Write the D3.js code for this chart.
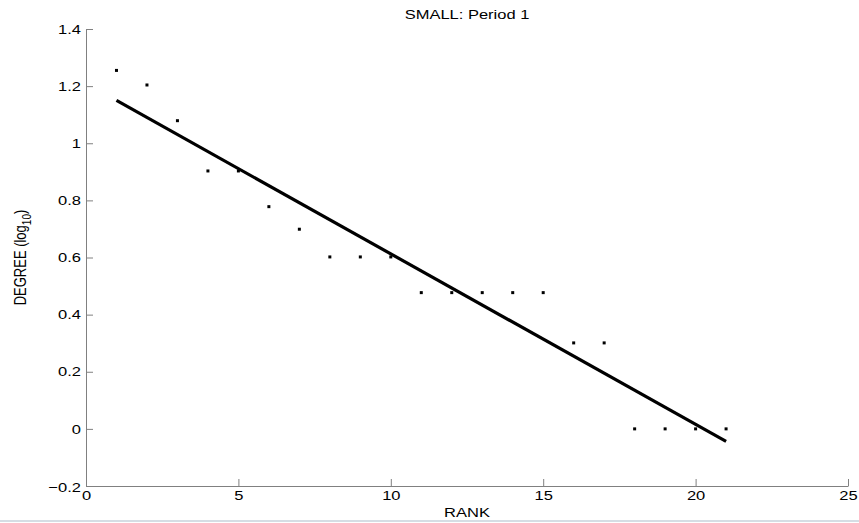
<!DOCTYPE html>
<html><head><meta charset="utf-8">
<script src="https://cdn.jsdelivr.net/npm/d3@7"></script>
<style>
html,body{margin:0;padding:0;background:#fff;}
svg{display:block;font-family:"Liberation Sans",Arial,sans-serif;}
</style></head>
<body>
<script>
const ranks = [1,2,3,4,5,6,7,8,9,10,11,12,13,14,15,16,17,18,19,20,21];
const degreeLog = [1.255,1.204,1.079,0.903,0.903,0.778,0.699,0.602,0.602,0.602,0.477,0.477,0.477,0.477,0.477,0.301,0.301,0,0,0,0];
const fitX = [1,21];
const fitY = [1.150,-0.044];
const xTicks = [0,5,10,15,20,25];
const yTicks = [-0.2,0,0.2,0.4,0.6,0.8,1,1.2,1.4];
const title = "SMALL: Period 1";
const xLabel = "RANK";

const W=859,H=523;
const SX=1.27; // horizontal stretch of the reference text
const svg=d3.select("body").append("svg").attr("width",W).attr("height",H);
const x=d3.scaleLinear().domain([0,25]).range([86,848]);
const y=d3.scaleLinear().domain([-0.2,1.4]).range([486,29]);
const axisCol="#808080";

const fmt=d=>d<0?"\u2212"+Math.abs(d):String(d);

const gx=svg.append("g").attr("transform",`translate(0,${y(-0.2)})`)
  .call(d3.axisBottom(x).tickValues(xTicks).tickSizeInner(-7).tickSizeOuter(0).tickPadding(6).tickFormat(fmt));
const gy=svg.append("g").attr("transform",`translate(${x(0)},0)`)
  .call(d3.axisLeft(y).tickValues(yTicks).tickSizeInner(-7).tickSizeOuter(0).tickPadding(5).tickFormat(fmt));
[gx,gy].forEach(g=>{
  g.select(".domain").attr("stroke",axisCol);
  g.selectAll(".tick line").attr("stroke",axisCol);
  g.selectAll(".tick text").attr("fill","#000").style("font-size","13px")
   .style("font-family","'Liberation Sans',Arial,sans-serif")
   .attr("transform",`scale(${SX},1)`);
});
gy.selectAll(".tick text").attr("x",-4);
gx.selectAll(".tick text").attr("y",5);
gy.selectAll(".tick text").filter(d=>d===-0.2).attr("dy","0.42em");

// fit line
svg.append("line")
  .attr("x1",x(fitX[0])).attr("y1",y(fitY[0]))
  .attr("x2",x(fitX[1])).attr("y2",y(fitY[1]))
  .attr("stroke","#000").attr("stroke-width",3.2);

// points
svg.append("g").selectAll("rect").data(ranks).join("rect")
  .attr("x",(d)=>x(d)-1.5).attr("y",(d,i)=>y(degreeLog[i])-1.5)
  .attr("width",3).attr("height",3).attr("fill","#000");

const cx=(x(0)+x(25))/2;
// title
svg.append("text").attr("transform",`translate(${cx},19) scale(${SX},1)`).attr("text-anchor","middle")
  .style("font-size","13px").attr("fill","#000").text(title);
// x label
svg.append("text").attr("transform",`translate(${cx},517) scale(${SX},1)`).attr("text-anchor","middle")
  .style("font-size","13px").attr("fill","#000").text(xLabel);
// y label
const yl=svg.append("text").attr("transform",`translate(26,${(y(-0.2)+y(1.4))/2}) scale(${SX},1) rotate(-90)`)
  .attr("text-anchor","middle").style("font-size","13px").attr("fill","#000");
yl.append("tspan").text("DEGREE (log");
yl.append("tspan").attr("dy","4").style("font-size","10px").text("10");
yl.append("tspan").attr("dy","-4").text(")");

// bottom border line
svg.append("rect").attr("x",0).attr("y",520).attr("width",W).attr("height",2).attr("fill","#d6dde4");
</script>
</body></html>
